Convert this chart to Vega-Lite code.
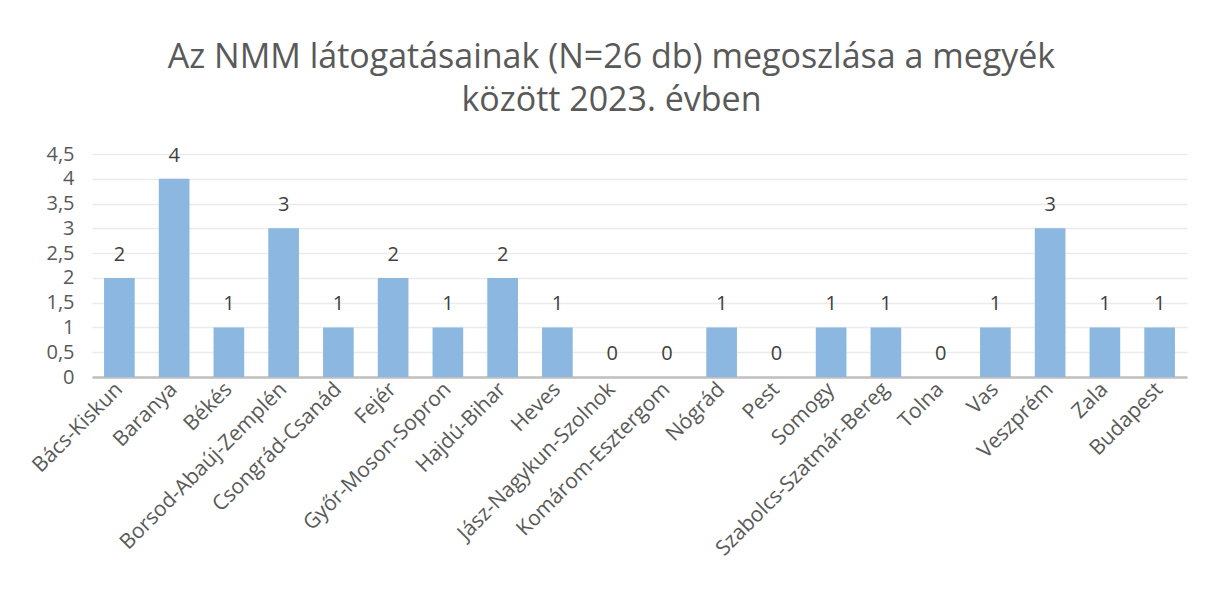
{
  "$schema": "https://vega.github.io/schema/vega-lite/v6.json",
  "autosize": "none",
  "width": 1095,
  "height": 223,
  "padding": {"left": 92, "top": 154, "right": 19, "bottom": 218},
  "background": "white",
  "title": {
    "text": ["Az NMM látogatásainak (N=26 db) megoszlása a megyék", "között 2023. évben"],
    "font": "Open Sans",
    "fontSize": 34,
    "fontWeight": "normal",
    "color": "#595959",
    "lineHeight": 43,
    "anchor": "middle",
    "dx": -28,
    "offset": 26
  },
  "data": {
    "values": [
      {"megye": "Bács-Kiskun", "db": 2},
      {"megye": "Baranya", "db": 4},
      {"megye": "Békés", "db": 1},
      {"megye": "Borsod-Abaúj-Zemplén", "db": 3},
      {"megye": "Csongrád-Csanád", "db": 1},
      {"megye": "Fejér", "db": 2},
      {"megye": "Győr-Moson-Sopron", "db": 1},
      {"megye": "Hajdú-Bihar", "db": 2},
      {"megye": "Heves", "db": 1},
      {"megye": "Jász-Nagykun-Szolnok", "db": 0},
      {"megye": "Komárom-Esztergom", "db": 0},
      {"megye": "Nógrád", "db": 1},
      {"megye": "Pest", "db": 0},
      {"megye": "Somogy", "db": 1},
      {"megye": "Szabolcs-Szatmár-Bereg", "db": 1},
      {"megye": "Tolna", "db": 0},
      {"megye": "Vas", "db": 1},
      {"megye": "Veszprém", "db": 3},
      {"megye": "Zala", "db": 1},
      {"megye": "Budapest", "db": 1}
    ]
  },
  "encoding": {
    "x": {
      "field": "megye",
      "type": "nominal",
      "sort": null,
      "scale": {"paddingInner": 0.44, "paddingOuter": 0.22},
      "axis": {
        "title": null,
        "labelAngle": -45,
        "labelAlign": "right",
        "labelBaseline": "middle",
        "labelFont": "Open Sans",
        "labelFontSize": 21,
        "labelColor": "#595959",
        "labelPadding": 9,
        "labelLimit": 0,
        "labelOverlap": false,
        "ticks": false,
        "domainColor": "#BFBFBF",
        "domainWidth": 2.5,
        "grid": false
      }
    },
    "y": {
      "field": "db",
      "type": "quantitative",
      "scale": {"domain": [0, 4.5], "nice": false},
      "axis": {
        "title": null,
        "values": [0, 0.5, 1, 1.5, 2, 2.5, 3, 3.5, 4, 4.5],
        "labelExpr": "replace(toString(datum.value), '.', ',')",
        "labelFont": "Open Sans",
        "labelFontSize": 20,
        "labelColor": "#595959",
        "labelPadding": 18,
        "labelOverlap": false,
        "ticks": false,
        "domain": false,
        "grid": true,
        "gridColor": "#EBEBEB",
        "gridWidth": 1.5
      }
    }
  },
  "layer": [
    {"mark": {"type": "bar", "color": "#8BB7E1"}},
    {
      "mark": {
        "type": "text",
        "dy": -17,
        "baseline": "alphabetic",
        "font": "Open Sans",
        "fontSize": 20,
        "color": "#404040"
      },
      "encoding": {"text": {"field": "db", "type": "quantitative"}}
    }
  ],
  "config": {"view": {"stroke": null}}
}
